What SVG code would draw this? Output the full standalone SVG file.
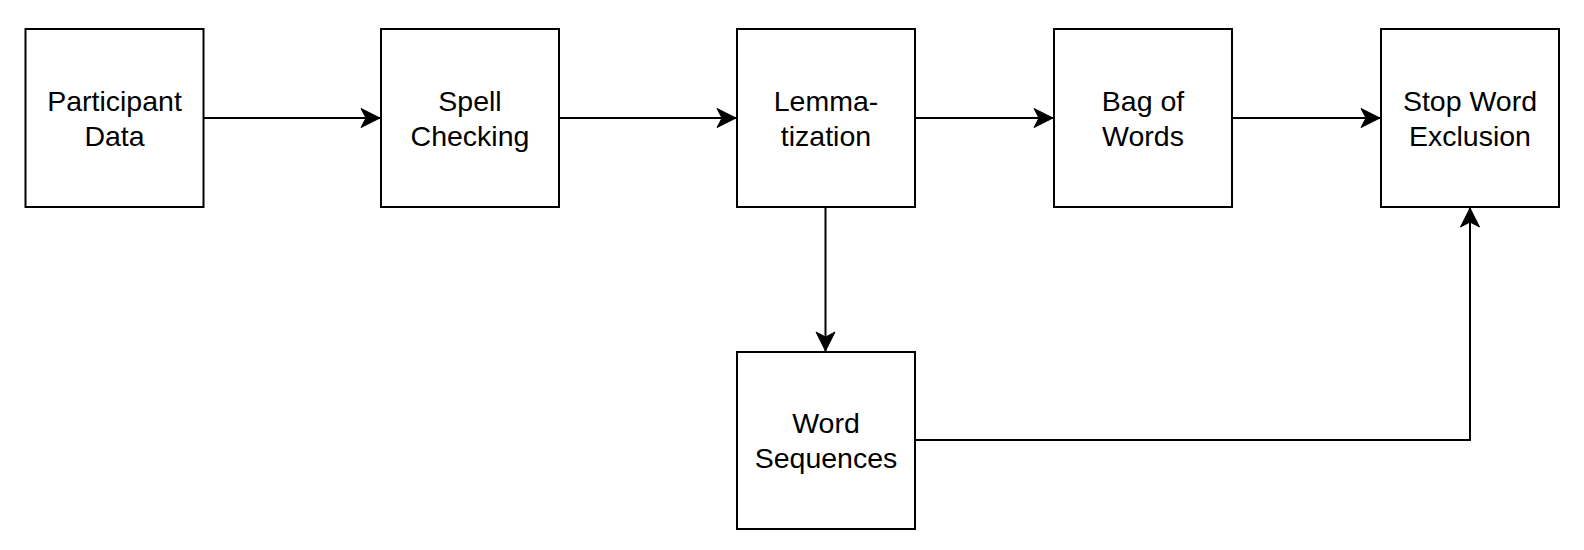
<svg xmlns="http://www.w3.org/2000/svg" width="1584" height="550" viewBox="0 0 1584 550">
<style>
.box{fill:#fff;stroke:#000;stroke-width:2}
.lbl{font-family:"Liberation Sans",Arial,Helvetica,sans-serif;font-size:28.5px;fill:#000;text-anchor:middle}
.edge{fill:none;stroke:#000;stroke-width:2}
</style>
<defs>
<marker id="arr" markerUnits="userSpaceOnUse" markerWidth="24" markerHeight="24" viewBox="-21 -12 24 24" refX="0" refY="0" orient="auto">
<path d="M0,0 L-19,-9.5 L-14,0 L-19,9.5 Z" fill="#000" stroke="#000" stroke-width="1"/>
</marker>
</defs>
<rect width="1584" height="550" fill="#fff"/>
<g id="edges">
<path class="edge" d="M204,118 H380" marker-end="url(#arr)"/>
<path class="edge" d="M559,118 H736" marker-end="url(#arr)"/>
<path class="edge" d="M915,118 H1053" marker-end="url(#arr)"/>
<path class="edge" d="M1233,118 H1380" marker-end="url(#arr)"/>
<path class="edge" d="M825.5,207 V351" marker-end="url(#arr)"/>
<path class="edge" d="M915,440 H1470 V208" marker-end="url(#arr)"/>
</g>
<g id="participant-data">
<rect class="box" x="25.5" y="29" width="178" height="178"/>
<text class="lbl" x="114.5" y="111">Participant</text>
<text class="lbl" x="114.5" y="145.5">Data</text>
</g>
<g id="spell-checking">
<rect class="box" x="381" y="29" width="178" height="178"/>
<text class="lbl" x="470" y="111">Spell</text>
<text class="lbl" x="470" y="145.5">Checking</text>
</g>
<g id="lemmatization">
<rect class="box" x="737" y="29" width="178" height="178"/>
<text class="lbl" x="826" y="111">Lemma-</text>
<text class="lbl" x="826" y="145.5">tization</text>
</g>
<g id="bag-of-words">
<rect class="box" x="1054" y="29" width="178" height="178"/>
<text class="lbl" x="1143" y="111">Bag of</text>
<text class="lbl" x="1143" y="145.5">Words</text>
</g>
<g id="stop-word-exclusion">
<rect class="box" x="1381" y="29" width="178" height="178"/>
<text class="lbl" x="1470" y="111">Stop Word</text>
<text class="lbl" x="1470" y="145.5">Exclusion</text>
</g>
<g id="word-sequences">
<rect class="box" x="737" y="352" width="178" height="177"/>
<text class="lbl" x="826" y="433">Word</text>
<text class="lbl" x="826" y="467.5">Sequences</text>
</g>
</svg>
